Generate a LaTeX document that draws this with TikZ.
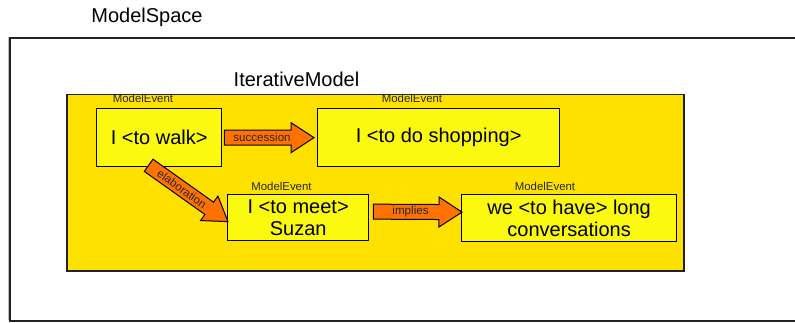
\documentclass[tikz,border=0pt]{standalone}
\usepackage{fontspec}
\setmainfont{Liberation Sans}
\usetikzlibrary{calc,shadows}
\definecolor{frameline}{HTML}{222222}
\definecolor{modelfill}{HTML}{FFE100}
\definecolor{eventfill}{HTML}{FBF90F}
\definecolor{arrowfill}{HTML}{FF7200}
\tikzset{
  spacebox/.style={draw=frameline, line width=2pt, fill=white,
    general shadow={shadow xshift=-2.5pt, shadow yshift=1pt, fill=black, opacity=.25}},
  modelbox/.style={draw=frameline, line width=1.5pt, fill=modelfill},
  eventbox/.style={draw=black, line width=1.3pt, fill=eventfill, align=center,
    font=\fontsize{20}{22.5}\selectfont, inner sep=0pt},
  title/.style={font=\fontsize{20}{24}\selectfont, anchor=base},
  evlab/.style={font=\fontsize{11.4}{13}\selectfont, anchor=base, text=black!85},
  blockarr/.style={draw=black, line width=1pt, fill=arrowfill, line join=miter},
  arrlab/.style={font=\fontsize{11.6}{13}\selectfont, text=black!85, inner sep=0pt}
}
% block arrow between two named points: tail, tip, label
\newcommand{\blockarrow}[3]{%
  \draw[blockarr] ($(#1)!7.5pt!90:(#2)$)
    -- ($(#2)!23pt!(#1)!7.5pt!-90:(#1)$) -- ($(#2)!23pt!(#1)!15pt!-90:(#1)$)
    -- (#2)
    -- ($(#2)!23pt!(#1)!15pt!90:(#1)$) -- ($(#2)!23pt!(#1)!7.5pt!90:(#1)$)
    -- ($(#1)!7.5pt!-90:(#2)$) -- cycle;
  \path let \p1=($(#2)-(#1)$) in
    node[arrlab, rotate={atan2(\y1,\x1)}] at ($(#1)!0.42!(#2)$) {#3};
}

\begin{document}
\begin{tikzpicture}[x=1pt,y=-1pt]
\useasboundingbox (0,0) rectangle (795,323);

% ---------------- Model space ----------------
\node[spacebox, anchor=north west, minimum width=800, minimum height=283] (space) at (9,37) {};
\node[title] (spacelab) at (147,23) {ModelSpace};

% ---------------- Iterative model ----------------
\node[modelbox, anchor=north west, minimum width=617, minimum height=176] (model) at (66,94) {};
\node[title] (modellab) at (296.5,87) {IterativeModel};

% ---------------- Model events ----------------
\node[eventbox, anchor=north west, minimum width=125, minimum height=58] (walk) at (96,108) {I <to walk>};
\node[eventbox, anchor=north west, minimum width=242, minimum height=58] (shop) at (317,108) {I <to do shopping>};
\node[eventbox, anchor=north west, minimum width=141, minimum height=46] (meet) at (227,194) {I <to meet>\\Suzan};
\node[eventbox, anchor=north west, minimum width=215, minimum height=47] (conv) at (461,194) {we <to have> long\\conversations};

\node[evlab] (walklab) at (143,103) {ModelEvent};
\node[evlab] (shoplab) at (412,103) {ModelEvent};
\node[evlab] (meetlab) at (281.5,191) {ModelEvent};
\node[evlab] (convlab) at (545,191) {ModelEvent};

% ---------------- Relations ----------------
\coordinate (succ-tail) at ([xshift=2pt]walk.east);
\coordinate (succ-tip) at ([xshift=-3pt]shop.west);
\coordinate (elab-tail) at ([shift={(-10.5pt,2pt)}]walk.south);
\coordinate (elab-tip) at ([shift={(1pt,-4pt)}]meet.west);
\coordinate (impl-tail) at ([shift={(4pt,6pt)}]meet.east);
\coordinate (impl-tip) at ([shift={(1pt,6pt)}]conv.west);

\blockarrow{succ-tail}{succ-tip}{succession}
\blockarrow{elab-tail}{elab-tip}{elaboration}
\blockarrow{impl-tail}{impl-tip}{implies}

\end{tikzpicture}
\end{document}
